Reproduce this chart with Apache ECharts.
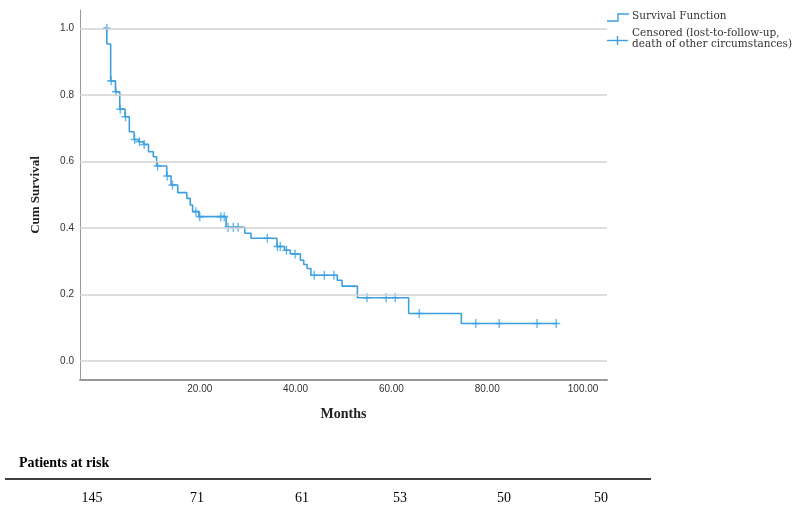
<!DOCTYPE html>
<html>
<head>
<meta charset="utf-8">
<script src="https://cdn.jsdelivr.net/npm/echarts@6/dist/echarts.min.js"></script>
<style>
html,body{margin:0;padding:0;background:#fff;}
#chart{width:798px;height:512px;}
</style>
</head>
<body>
<div id="chart"></div>
<script>
// Kaplan-Meier step points: time (months) at which survival drops to value
const survTimes  = [0, 0.6, 1.4, 2.4, 3.3, 4.4, 5.3, 6.3, 7.3, 8.3, 9.3, 10.3, 11.0, 13.1, 14.0, 15.4, 17.3, 18.0, 18.5, 19.8, 25.5, 29.4, 30.7, 36.1, 37.7, 38.9, 41.0, 41.7, 42.4, 43.2, 48.7, 49.7, 52.9, 63.6, 74.6, 94.6];
const survValues = [1.0, 0.953, 0.842, 0.809, 0.757, 0.734, 0.689, 0.666, 0.659, 0.651, 0.629, 0.614, 0.586, 0.556, 0.529, 0.506, 0.489, 0.469, 0.449, 0.434, 0.402, 0.384, 0.369, 0.344, 0.333, 0.322, 0.303, 0.290, 0.278, 0.258, 0.243, 0.225, 0.190, 0.143, 0.113, 0.113];

// Censored observations
const censTimes  = [0.6, 1.5, 2.5, 3.4, 4.5, 6.4, 7.4, 8.4, 11.2, 13.2, 14.3, 19.2, 20.0, 24.4, 25.1, 25.9, 27.0, 28.0, 34.1, 36.2, 36.8, 38.1, 39.9, 43.9, 46.0, 48.0, 54.9, 58.9, 60.8, 65.8, 77.6, 82.5, 90.4, 94.4];
const censValues = [1.0, 0.842, 0.809, 0.757, 0.734, 0.666, 0.659, 0.651, 0.586, 0.556, 0.529, 0.449, 0.434, 0.434, 0.434, 0.402, 0.402, 0.402, 0.369, 0.344, 0.344, 0.333, 0.322, 0.258, 0.258, 0.258, 0.190, 0.190, 0.190, 0.143, 0.113, 0.113, 0.113, 0.113];

// Axis ticks
const xTicks = [20, 40, 60, 80, 100];
const yTicks = [0, 0.2, 0.4, 0.6, 0.8, 1.0];

// Legend & table text
const legendLabels = ['Survival Function', 'Censored (lost-to-follow-up,', 'death of other circumstances)'];
const riskTitle = 'Patients at risk';
const riskCounts = ['145', '71', '61', '53', '50', '50'];
const riskX = [92, 197, 302, 400, 504, 601];

const blue = '#3ca0e0';
const plus = 'path://M-0.17,-1 L0.17,-1 L0.17,-0.17 L1,-0.17 L1,0.17 L0.17,0.17 L0.17,1 L-0.17,1 L-0.17,0.17 L-1,0.17 L-1,-0.17 L-0.17,-0.17 Z';

const chart = echarts.init(document.getElementById('chart'));

const graphics = [
  {type:'polyline', shape:{points:[[607,21],[618,21],[618,14],[629,14]]}, style:{stroke:blue, lineWidth:1.4, fill:null}},
  {type:'line', shape:{x1:607,y1:40.5,x2:628,y2:40.5}, style:{stroke:blue, lineWidth:1.4}},
  {type:'line', shape:{x1:617.5,y1:36,x2:617.5,y2:45}, style:{stroke:blue, lineWidth:1.4}},
  {type:'text', x:632, y:16, style:{text:legendLabels[0], fill:'#333', font:'10.5px "DejaVu Serif"', verticalAlign:'middle'}},
  {type:'text', x:632, y:33, style:{text:legendLabels[1], fill:'#333', font:'10.5px "DejaVu Serif"', verticalAlign:'middle'}},
  {type:'text', x:632, y:44.5, style:{text:legendLabels[2], fill:'#333', font:'10.5px "DejaVu Serif"', verticalAlign:'middle'}},
  {type:'text', x:19, y:463, style:{text:riskTitle, fill:'#000', font:'bold 14px "Liberation Serif"', verticalAlign:'middle'}},
  {type:'line', shape:{x1:5,y1:479,x2:651,y2:479}, style:{stroke:'#000', lineWidth:1.5}}
];
riskCounts.forEach((c, i) => {
  graphics.push({type:'text', x:riskX[i], y:498, style:{text:c, fill:'#000', font:'14px "Liberation Serif"', align:'center', verticalAlign:'middle'}});
});

chart.setOption({
  animation:false,
  backgroundColor:'#fff',
  grid:{left:80, right:191, top:10, bottom:132},
  xAxis:{
    type:'value', min:-5, max:105,
    name:'Months', nameLocation:'middle', nameGap:27,
    nameTextStyle:{fontFamily:'Liberation Serif', fontWeight:'bold', fontSize:14, color:'#222'},
    axisLine:{show:true, onZero:false, lineStyle:{color:'#999', width:2}},
    axisTick:{show:false},
    splitLine:{show:false},
    axisLabel:{customValues:xTicks, formatter:v=>v.toFixed(2), fontFamily:'Liberation Sans Narrow, Liberation Sans', fontSize:10, color:'#333', margin:4}
  },
  yAxis:{
    type:'value', min:-0.057, max:1.055,
    name:'Cum Survival', nameLocation:'middle', nameGap:38, nameRotate:90,
    nameTextStyle:{fontFamily:'Liberation Serif', fontWeight:'bold', fontSize:13, color:'#222'},
    axisLine:{show:true, onZero:false, lineStyle:{color:'#999', width:1}},
    axisTick:{show:false},
    splitLine:{show:false},
    axisLabel:{customValues:yTicks, formatter:v=>v.toFixed(1), fontFamily:'Liberation Sans', fontSize:10, color:'#333', margin:6}
  },
  series:[
    {
      type:'line', data:[[-10,-10]], showSymbol:false, silent:true, z:1,
      lineStyle:{opacity:0},
      markLine:{silent:true, symbol:'none', label:{show:false}, animation:false,
        lineStyle:{color:'#d2d2d2', type:'solid', width:1.5},
        data:yTicks.map(v=>({yAxis:v}))}
    },
    {
      type:'line', step:'end', z:3,
      data:survTimes.map((t,i)=>[t, survValues[i]]),
      showSymbol:false, symbol:'none',
      lineStyle:{color:blue, width:1.6}
    },
    {
      type:'scatter', z:4,
      data:censTimes.map((t,i)=>[t, censValues[i]]),
      symbol:plus, symbolSize:[8,9],
      itemStyle:{color:blue}
    }
  ],
  graphic:graphics
});
</script>
</body>
</html>
